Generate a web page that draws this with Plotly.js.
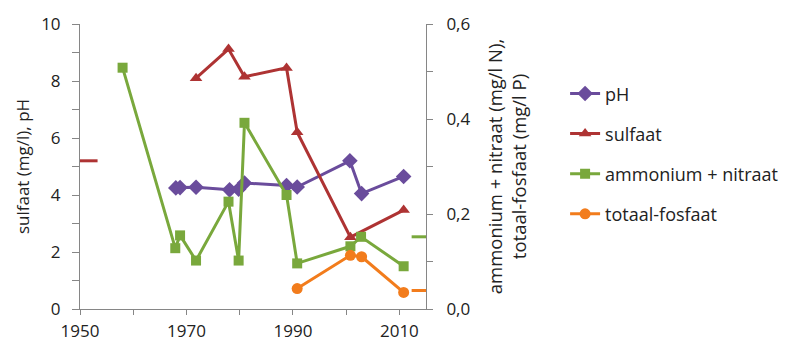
<!DOCTYPE html>
<html>
<head>
<meta charset="utf-8">
<script src="https://cdn.plot.ly/plotly-3.0.1.min.js"></script>
<style>html,body{margin:0;padding:0;background:#fff;}#chart{width:795px;height:343px;}</style>
</head>
<body>
<div id="chart"></div>
<script>
// pH
const phYears = [1968.0, 1968.8, 1971.8, 1978.1, 1979.8, 1980.9, 1988.8, 1990.8, 2000.7, 2002.9, 2010.8];
const phValues = [4.25, 4.26, 4.27, 4.18, 4.2, 4.42, 4.33, 4.28, 5.2, 4.05, 4.65];
// sulfaat (mg/l)
const sulfaatYears = [1971.8, 1977.9, 1980.9, 1988.8, 1990.8, 2000.8, 2010.8];
const sulfaatValues = [8.1, 9.12, 8.15, 8.46, 6.2, 2.52, 3.47];
// ammonium + nitraat (mg/l N)
const nYears = [1958.0, 1967.9, 1968.8, 1971.8, 1977.9, 1979.8, 1980.9, 1988.8, 1990.8, 2000.8, 2002.8, 2010.8];
const nValues = [0.508, 0.128, 0.155, 0.102, 0.226, 0.102, 0.392, 0.240, 0.096, 0.132, 0.152, 0.090];
// totaal-fosfaat (mg/l P)
const pYears = [1990.8, 2000.8, 2002.9, 2010.8];
const pValues = [0.043, 0.113, 0.110, 0.035];
// short reference dashes at the plot edges
const sulfaatRefYears = [1950, 1953.3];
const sulfaatRefValues = [5.2, 5.2];
const nRefYears = [2012.3, 2015];
const nRefValues = [0.152, 0.152];
const pRefYears = [2012.3, 2015];
const pRefValues = [0.039, 0.039];

const names = ['pH', 'sulfaat', 'ammonium + nitraat', 'totaal-fosfaat'];
const colors = ['#6A4C9C', '#AE3333', '#79A83C', '#F27C1C'];

const traces = [
  {x: phYears, y: phValues, name: names[0], yaxis: 'y', mode: 'lines+markers', legendgroup: 'a',
   line: {color: colors[0], width: 3}, marker: {symbol: 'diamond', size: 12, color: colors[0]}},
  {x: sulfaatYears, y: sulfaatValues, name: names[1], yaxis: 'y', mode: 'lines+markers', legendgroup: 'b',
   line: {color: colors[1], width: 3}, marker: {symbol: 'triangle-up', size: 11, color: colors[1]}},
  {x: nYears, y: nValues, name: names[2], yaxis: 'y2', mode: 'lines+markers', legendgroup: 'c',
   line: {color: colors[2], width: 3}, marker: {symbol: 'square', size: 10, color: colors[2]}},
  {x: pYears, y: pValues, name: names[3], yaxis: 'y2', mode: 'lines+markers', legendgroup: 'd',
   line: {color: colors[3], width: 3}, marker: {symbol: 'circle', size: 11, color: colors[3]}},
  {x: sulfaatRefYears, y: sulfaatRefValues, yaxis: 'y', mode: 'lines', showlegend: false, hoverinfo: 'skip',
   line: {color: colors[1], width: 3}},
  {x: nRefYears, y: nRefValues, yaxis: 'y2', mode: 'lines', showlegend: false, hoverinfo: 'skip',
   line: {color: colors[2], width: 3}},
  {x: pRefYears, y: pRefValues, yaxis: 'y2', mode: 'lines', showlegend: false, hoverinfo: 'skip',
   line: {color: colors[3], width: 3}}
];

const axisColor = '#868686';
const fontFam = '"Open Sans", "DejaVu Sans", sans-serif';

const layout = {
  width: 795, height: 343,
  margin: {l: 80, r: 367, t: 24, b: 34},
  paper_bgcolor: '#fff', plot_bgcolor: '#fff',
  separators: ', ',
  font: {family: fontFam, size: 17, color: '#222'},
  showlegend: true,
  legend: {x: 1.402, xanchor: 'left', y: 0.82, yanchor: 'top', traceorder: 'grouped', tracegroupgap: 13.7,
           font: {family: fontFam, size: 18, color: '#222'}, bgcolor: 'rgba(0,0,0,0)', itemwidth: 30},
  xaxis: {range: [1950, 2015], tick0: 1950, dtick: 20, showgrid: false, zeroline: false,
          showline: true, linecolor: axisColor, linewidth: 1, ticks: 'outside', ticklen: 5, tickcolor: axisColor,
          minor: {dtick: 10, tick0: 1950, ticks: 'outside', ticklen: 5, tickcolor: axisColor, showgrid: false},
          ticklabelstandoff: 2,
          tickfont: {size: 17, color: '#222'}},
  yaxis: {range: [0, 10], tick0: 0, dtick: 2, showgrid: false, zeroline: false,
          showline: true, linecolor: axisColor, linewidth: 1, ticks: 'outside', ticklen: 7, tickcolor: axisColor,
          minor: {dtick: 1, ticks: 'outside', ticklen: 7, tickcolor: axisColor, showgrid: false},
          ticklabelstandoff: 8,
          tickfont: {size: 17, color: '#222'},
          title: {text: 'sulfaat (mg/l), pH', font: {size: 17, color: '#222'}, standoff: 7}},
  yaxis2: {range: [0, 0.6], tick0: 0, dtick: 0.2, overlaying: 'y', side: 'right', tickformat: '.1f',
           showgrid: false, zeroline: false,
           showline: true, linecolor: axisColor, linewidth: 1, ticks: 'outside', ticklen: 6, tickcolor: axisColor,
           minor: {dtick: 0.1, ticks: 'outside', ticklen: 6, tickcolor: axisColor, showgrid: false},
           ticklabelstandoff: 10,
           tickfont: {size: 17, color: '#222'},
           title: {text: 'ammonium + nitraat (mg/l N),<br>totaal-fosfaat (mg/l P)', font: {size: 18.5, color: '#222'}, standoff: 19}}
};

Plotly.newPlot('chart', traces, layout, {displayModeBar: false, staticPlot: true});
</script>
</body>
</html>
